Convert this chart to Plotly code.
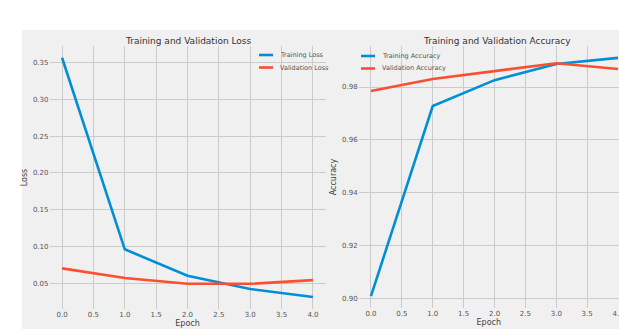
import plotly.graph_objects as go

# Training history over five epochs
epochs = [0, 1, 2, 3, 4]
train_loss = [0.357, 0.096, 0.060, 0.042, 0.031]
val_loss = [0.070, 0.057, 0.049, 0.049, 0.054]
train_acc = [0.901, 0.9728, 0.9826, 0.9887, 0.991]
val_acc = [0.9785, 0.983, 0.986, 0.989, 0.9868]

loss_ticks = [0.05, 0.10, 0.15, 0.20, 0.25, 0.30, 0.35]
acc_ticks = [0.90, 0.92, 0.94, 0.96, 0.98]
epoch_ticks = [0.0, 0.5, 1.0, 1.5, 2.0, 2.5, 3.0, 3.5, 4.0]

W, H = 619, 329
BLUE = "#008fd5"
RED = "#fc4f30"
BG = "#f0f0f0"
GRID = "#cbcbcb"
FONT = "DejaVu Sans"


def px(x):
    return x / W


def py(y):
    return 1 - y / H


fig = go.Figure()

series = [
    (train_loss, "Training Loss", BLUE, "x", "y"),
    (val_loss, "Validation Loss", RED, "x", "y"),
    (train_acc, "Training Accuracy", BLUE, "x2", "y2"),
    (val_acc, "Validation Accuracy", RED, "x2", "y2"),
]
for values, name, color, xa, ya in series:
    fig.add_trace(go.Scatter(x=epochs, y=values, mode="lines", name=name,
                             line=dict(color=color, width=2.6), xaxis=xa, yaxis=ya,
                             showlegend=False, cliponaxis=False))

tickfont = dict(family=FONT, size=7, color="#555555")
labelfont = dict(family=FONT, size=8, color="#444444")
axis_common = dict(showgrid=True, gridcolor=GRID, gridwidth=1, zeroline=False,
                   showline=False, ticks="", tickfont=tickfont,
                   ticklabeloverflow="allow", automargin=False)

shapes = [dict(type="rect", xref="paper", yref="paper", layer="below",
               x0=px(22), x1=1, y0=0, y1=py(30),
               fillcolor=BG, line=dict(width=0))]
annotations = [
    dict(text="Training and Validation Loss", xref="paper", yref="paper",
         x=px(188), y=py(41), xanchor="center", yanchor="middle", showarrow=False,
         font=dict(family=FONT, size=9, color="#333333")),
    dict(text="Training and Validation Accuracy", xref="paper", yref="paper",
         x=px(497), y=py(41), xanchor="center", yanchor="middle", showarrow=False,
         font=dict(family=FONT, size=9, color="#333333")),
]

# compact legends: a short coloured stroke followed by the series name
legend_boxes = [
    (259, 55, [("Training Loss", BLUE), ("Validation Loss", RED)]),
    (361, 56, [("Training Accuracy", BLUE), ("Validation Accuracy", RED)]),
]
for x0, y0, entries in legend_boxes:
    for i, (label, color) in enumerate(entries):
        yy = y0 + i * 12.5
        shapes.append(dict(type="line", xref="paper", yref="paper",
                           x0=px(x0), x1=px(x0 + 14), y0=py(yy), y1=py(yy),
                           line=dict(color=color, width=2.6)))
        annotations.append(dict(text=label, xref="paper", yref="paper",
                                x=px(x0 + 19), y=py(yy), xanchor="left", yanchor="middle",
                                showarrow=False, font=dict(family=FONT, size=6.5, color="#555555")))

fig.update_layout(
    width=W, height=H,
    margin=dict(l=0, r=0, t=0, b=0, autoexpand=False),
    paper_bgcolor="white",
    plot_bgcolor=BG,
    font=dict(family=FONT, color="#444444"),
    showlegend=False,
    shapes=shapes,
    annotations=annotations,
    xaxis=dict(domain=[px(49.5), px(325.5)], range=[-0.2, 4.2], anchor="y",
               tickvals=epoch_ticks, ticktext=[f"{v:.1f}" for v in epoch_ticks],
               title=dict(text="Epoch", font=labelfont, standoff=2),
               **axis_common),
    yaxis=dict(domain=[py(309), py(46)], range=[0.0147, 0.373], anchor="x",
               tickvals=loss_ticks, ticktext=[f"{v:.2f}" for v in loss_ticks],
               title=dict(text="Loss", font=labelfont, standoff=4),
               **axis_common),
    xaxis2=dict(domain=[px(358.6), 1], range=[-0.2, 4.015], anchor="y2",
                tickvals=epoch_ticks, ticktext=[f"{v:.1f}" for v in epoch_ticks],
                title=dict(text="Epoch", font=labelfont, standoff=2),
                **axis_common),
    yaxis2=dict(domain=[py(308), py(46)], range=[0.8965, 0.9955], anchor="x2",
                tickvals=acc_ticks, ticktext=[f"{v:.2f}" for v in acc_ticks],
                title=dict(text="Accuracy", font=labelfont, standoff=4),
                **axis_common),
)

fig.write_html("out.html")
